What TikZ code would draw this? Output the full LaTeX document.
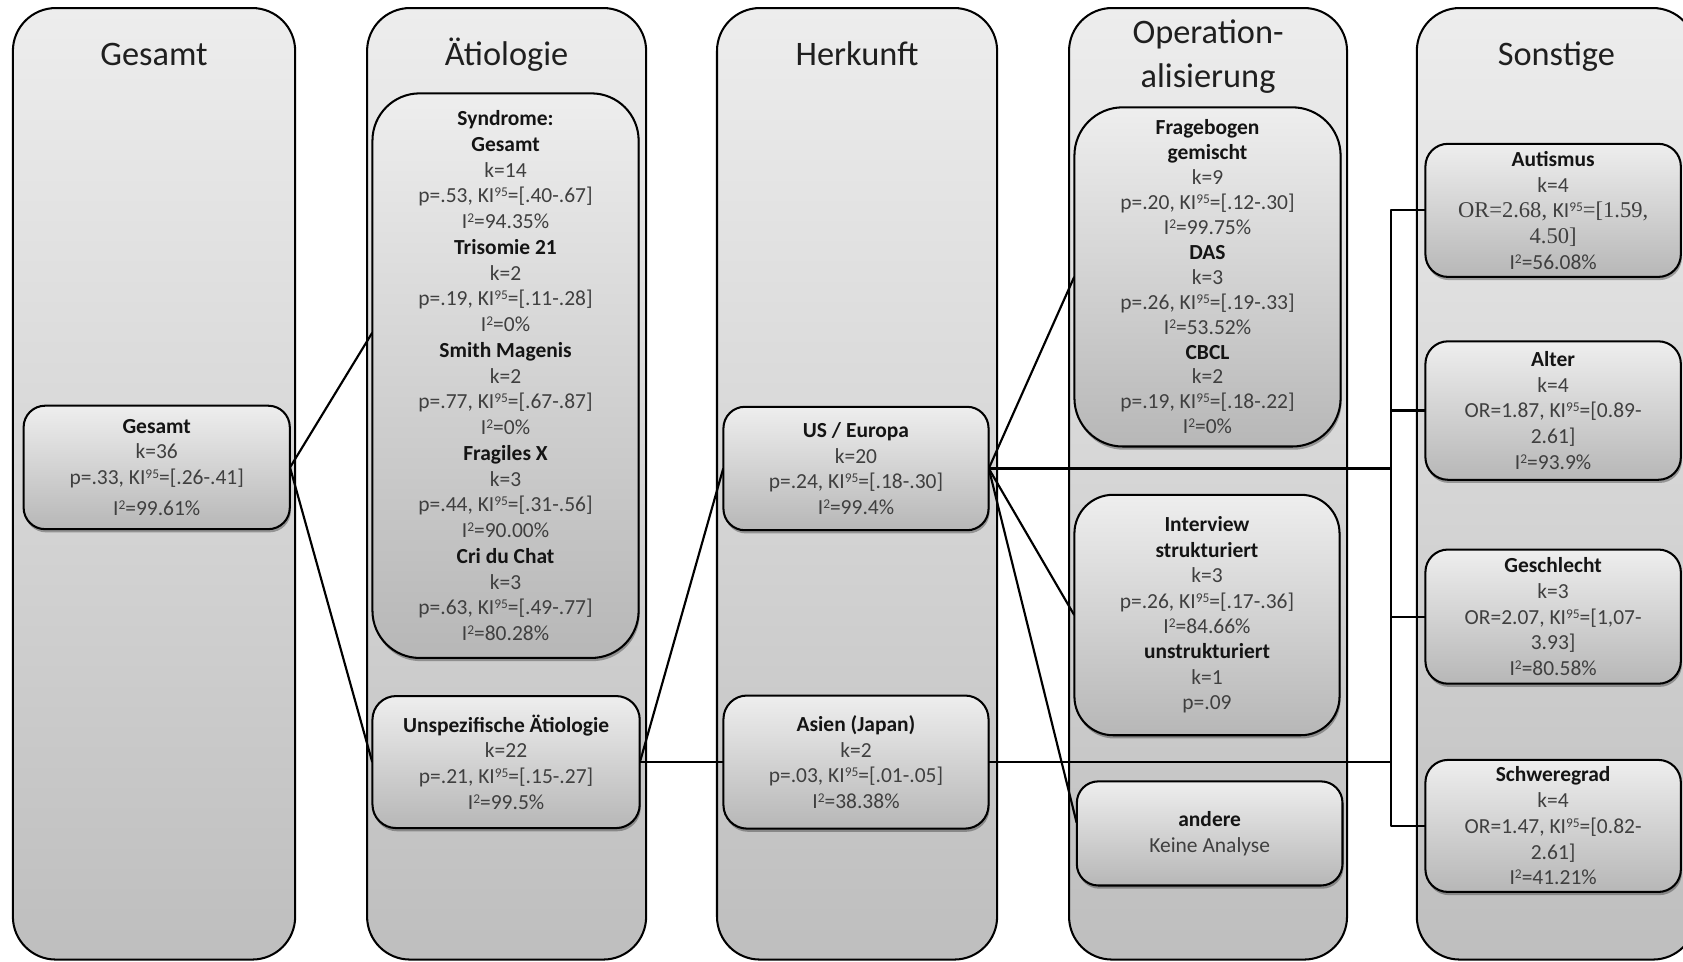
\documentclass[tikz,border=0pt]{standalone}
\usepackage{fontspec}
\setmainfont{Carlito}
\newfontfamily\cmbserif{Liberation Serif}
\usetikzlibrary{shadows}
\definecolor{coltop}{HTML}{EDEDED}
\definecolor{colbot}{HTML}{BEBEBE}
\definecolor{boxtop}{HTML}{EEEEEE}
\definecolor{boxbot}{HTML}{B7B7B7}
\definecolor{txtc}{HTML}{3F3F3F}
\definecolor{hdc}{HTML}{141414}
\newcommand{\mysup}[1]{\raisebox{5.6pt}{\fontsize{12.5}{12.5}\selectfont #1}}
\newcommand{\kin}{KI\mysup{95}}
\newcommand{\isq}{I\mysup{2}}
\newcommand{\hd}[1]{{\bfseries\color{hdc}#1}}
\newcommand{\srf}[1]{{\cmbserif\fontsize{21}{24}\selectfont #1}}
\begin{document}
\begin{tikzpicture}[x=1pt,y=1pt,line join=round,
  colbox/.style={draw=black, line width=1.9pt, rounded corners=40pt,
    top color=coltop, bottom color=colbot, inner sep=0pt},
  ibox/.style={draw=black, line width=1.9pt, top color=boxtop, bottom color=boxbot,
    inner sep=0pt, align=center, text=txtc, font=\fontsize{20}{24}\selectfont,
    drop shadow={shadow xshift=1pt, shadow yshift=-3pt, opacity=0.3, fill=black}},
  ttl/.style={anchor=base, font=\fontsize{32}{38}\selectfont, text=black!88},
  conn/.style={draw=black, line width=2pt}]
\useasboundingbox (0,0) rectangle (1568,896);
\clip (0,0) rectangle (1568,896);
% columns
\node[colbox, minimum width=263pt, minimum height=886.5pt] (c1) at (143.5,445.25) {};
\node[colbox, minimum width=260pt, minimum height=886.5pt] (c2) at (472,445.25) {};
\node[colbox, minimum width=261pt, minimum height=886.5pt] (c3) at (798.5,445.25) {};
\node[colbox, minimum width=259pt, minimum height=886.5pt] (c4) at (1125.5,445.25) {};
\node[colbox, minimum width=260pt, minimum height=886.5pt] (c5) at (1450,445.25) {};
% titles
\node[ttl] (t1) at (143.5,835.4) {Gesamt};
\node[ttl] (t2) at (472,835.4) {Ätiologie};
\node[ttl] (t3) at (798.5,835.4) {Herkunft};
\node[ttl] (t4a) at (1125.5,855.6) {Operation-};
\node[ttl] (t4b) at (1125.5,814.6) {alisierung};
\node[ttl] (t5) at (1450,835.4) {Sonstige};
% coordinates for the bracket
\coordinate (bx) at (1296,0);
\path (146,460.5) coordinate (gesBc) (471,546) coordinate (sync) (471.5,186) coordinate (unspc)
  (797.5,459.5) coordinate (usEc) (797.5,186) coordinate (asiac) (1125,638) coordinate (fragc)
  (1124.5,323) coordinate (intervc) (1127,119.5) coordinate (anderec)
  (1447,700) coordinate (autc) (1447,513.5) coordinate (alterc) (1447,321.5) coordinate (geschc)
  (1447,126.5) coordinate (schwc);
% invisible placeholders giving the anchors for connectors
\begin{scope}[every node/.style={inner sep=0pt, draw=none}]
\node[minimum width=248pt, minimum height=115pt] (gesB) at (gesBc) {};
\node[minimum width=248pt, minimum height=526pt] (syn) at (sync) {};
\node[minimum width=249pt, minimum height=123pt] (unsp) at (unspc) {};
\node[minimum width=247pt, minimum height=115pt] (usE) at (usEc) {};
\node[minimum width=247pt, minimum height=124pt] (asia) at (asiac) {};
\node[minimum width=248pt, minimum height=316pt] (frag) at (fragc) {};
\node[minimum width=247pt, minimum height=224pt] (interv) at (intervc) {};
\node[minimum width=247.5pt, minimum height=97pt] (andere) at (anderec) {};
\node[minimum width=238pt, minimum height=124pt] (aut) at (autc) {};
\node[minimum width=238pt, minimum height=129pt] (alter) at (alterc) {};
\node[minimum width=238pt, minimum height=125pt] (gesch) at (geschc) {};
\node[minimum width=238pt, minimum height=123pt] (schw) at (schwc) {};
\end{scope}
% connectors
\draw[conn] (gesB.east) -- ([yshift=40pt]syn.west);
\draw[conn] (gesB.east) -- (unsp.west);
\draw[conn] (unsp.east) -- (usE.west);
\draw[conn] (unsp.east) -- (asia.west);
\draw[conn] (usE.east) -- (frag.west);
\draw[conn] (usE.east) -- (interv.west);
\draw[conn] (usE.east) -- ([yshift=10pt]andere.west);
\draw[conn] (usE.east) -- (usE.east -| bx);
\draw[conn] (asia.east) -- (asia.east -| bx);
\draw[conn] (aut.west) -- (aut.west -| bx) -- (schw.west -| bx) -- (schw.west);
\draw[conn] (alter.west -| bx) -- (alter.west);
\draw[conn] (gesch.west -| bx) -- (gesch.west);
% visible boxes
\node[ibox, rounded corners=20pt, minimum width=248pt, minimum height=115pt] (gesBv) at (gesBc)
  {\hd{Gesamt}\\ k=36\\ p=.33, \kin=[.26-.41]\\[5pt] \isq=99.61\%};
\node[ibox, rounded corners=44pt, minimum width=248pt, minimum height=526pt] (synv) at (sync)
  {\hd{Syndrome:}\\ \hd{Gesamt}\\ k=14\\ p=.53, \kin=[.40-.67]\\ \isq=94.35\%\\
   \hd{Trisomie 21}\\ k=2\\ p=.19, \kin=[.11-.28]\\ \isq=0\%\\
   \hd{Smith Magenis}\\ k=2\\ p=.77, \kin=[.67-.87]\\ \isq=0\%\\
   \hd{Fragiles X}\\ k=3\\ p=.44, \kin=[.31-.56]\\ \isq=90.00\%\\
   \hd{Cri du Chat}\\ k=3\\ p=.63, \kin=[.49-.77]\\ \isq=80.28\%};
\node[ibox, rounded corners=22pt, minimum width=249pt, minimum height=123pt] (unspv) at (unspc)
  {\hd{Unspezifische Ätiologie}\\ k=22\\ p=.21, \kin=[.15-.27]\\ \isq=99.5\%};
\node[ibox, rounded corners=20pt, minimum width=247pt, minimum height=115pt] (usEv) at (usEc)
  {\hd{US / Europa}\\ k=20\\ p=.24, \kin=[.18-.30]\\ \isq=99.4\%};
\node[ibox, rounded corners=22pt, minimum width=247pt, minimum height=124pt] (asiav) at (asiac)
  {\hd{Asien (Japan)}\\ k=2\\ p=.03, \kin=[.01-.05]\\ \isq=38.38\%};
\node[ibox, rounded corners=45pt, minimum width=248pt, minimum height=316pt,
  font=\fontsize{20}{23.2}\selectfont] (fragv) at (fragc)
  {\hd{Fragebogen}\\ \hd{gemischt}\\ k=9\\ p=.20, \kin=[.12-.30]\\ \isq=99.75\%\\
   \hd{DAS}\\ k=3\\ p=.26, \kin=[.19-.33]\\ \isq=53.52\%\\
   \hd{CBCL}\\ k=2\\ p=.19, \kin=[.18-.22]\\ \isq=0\%};
\node[ibox, rounded corners=36pt, minimum width=247pt, minimum height=224pt,
  font=\fontsize{20}{23.7}\selectfont] (intervv) at (intervc)
  {\hd{Interview}\\ \hd{strukturiert}\\ k=3\\ p=.26, \kin=[.17-.36]\\ \isq=84.66\%\\
   \hd{unstrukturiert}\\ k=1\\ p=.09};
\node[ibox, rounded corners=20pt, minimum width=247.5pt, minimum height=97pt] (anderev) at (anderec)
  {\hd{andere}\\ Keine Analyse};
\node[ibox, rounded corners=21pt, minimum width=238pt, minimum height=124pt] (autv) at (autc)
  {\hd{Autismus}\\ k=4\\ \srf{OR=2.68, }\kin\srf{=[1.59,}\\ \srf{4.50]}\\ \isq=56.08\%};
\node[ibox, rounded corners=21pt, minimum width=238pt, minimum height=129pt] (alterv) at (alterc)
  {\hd{Alter}\\ k=4\\ OR=1.87, \kin=[0.89-\\ 2.61]\\ \isq=93.9\%};
\node[ibox, rounded corners=21pt, minimum width=238pt, minimum height=125pt] (geschv) at (geschc)
  {\hd{Geschlecht}\\ k=3\\ OR=2.07, \kin=[1,07-\\ 3.93]\\ \isq=80.58\%};
\node[ibox, rounded corners=21pt, minimum width=238pt, minimum height=123pt] (schwv) at (schwc)
  {\hd{Schweregrad}\\ k=4\\ OR=1.47, \kin=[0.82-\\ 2.61]\\ \isq=41.21\%};
\end{tikzpicture}
\end{document}
